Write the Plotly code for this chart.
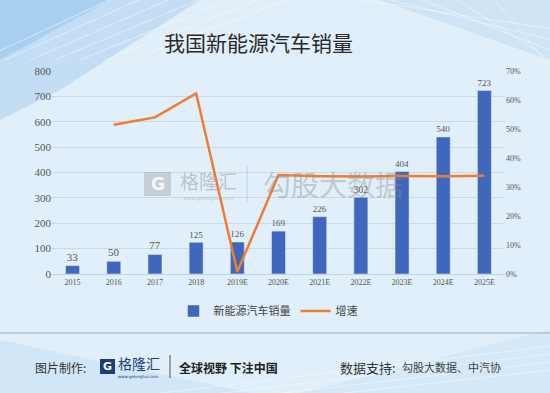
import plotly.graph_objects as go

years = ["2015", "2016", "2017", "2018", "2019E", "2020E", "2021E", "2022E", "2023E", "2024E", "2025E"]
sales = [33, 50, 77, 125, 126, 169, 226, 302, 404, 540, 723]
growth = [None, 51.5, 54.0, 62.3, 0.8, 34.1, 33.7, 33.6, 33.8, 33.7, 33.9]

left_ticks = [0, 100, 200, 300, 400, 500, 600, 700, 800]
right_ticks = [0, 10, 20, 30, 40, 50, 60, 70]
right_labels = [f"{v}%" for v in right_ticks]

CJK = "Noto Sans CJK SC"
SERIF = "Liberation Serif"

# plot area geometry (px) for placing paper-referenced decorations
L, R, T, B = 52, 45, 71, 119
W, H = 550, 393
PW, PH = W - L - R, H - T - B


def px(x):
    return (x - L) / PW


def py(y):
    return (H - B - y) / PH


def note(text, x, y, size, color, family=CJK, xanchor="center"):
    return dict(text=text, x=px(x), y=py(y), xref="paper", yref="paper", showarrow=False,
                xanchor=xanchor, yanchor="middle",
                font=dict(family=family, size=size, color=color))


def poly(points, color):
    d = "M " + " L ".join(f"{px(x):.4f},{py(y):.4f}" for x, y in points) + " Z"
    return dict(type="path", xref="paper", yref="paper", path=d,
                fillcolor=color, line=dict(width=0), layer="below")


fig = go.Figure()
fig.add_trace(go.Bar(
    x=years, y=sales, name="新能源汽车销量",
    marker=dict(color="#3f68bd"), width=0.34,
    text=[str(v) for v in sales], textposition="outside",
    textfont=dict(color="#555555", size=11, family=SERIF),
    cliponaxis=False,
))
fig.add_trace(go.Scatter(
    x=years, y=growth, name="增速", mode="lines",
    line=dict(color="#ed7d31", width=2.5), yaxis="y2",
))

shapes = [
    # soft background tinting (bluer corners, lighter centre)
    poly([(0, 0), (200, 0), (60, 90), (0, 120)], "rgba(140,190,235,0.35)"),
    poly([(0, 0), (110, 0), (0, 60)], "rgba(120,180,235,0.35)"),
    poly([(380, 0), (550, 0), (550, 60)], "rgba(150,195,235,0.25)"),
    poly([(0, 393), (550, 393), (550, 330), (300, 393)], "rgba(150,195,235,0.15)"),
    poly([(0, 340), (0, 393), (250, 393)], "rgba(150,195,235,0.2)"),
]
# decorative light streaks in the background
for i in range(7):
    shapes.append(dict(type="line", xref="paper", yref="paper",
                       x0=px(-20 + i * 25), y0=py(60), x1=px(120 + i * 30), y1=py(-5),
                       line=dict(color="rgba(255,255,255,0.5)", width=1), layer="below"))
for i in range(5):
    shapes.append(dict(type="line", xref="paper", yref="paper",
                       x0=px(330 + i * 40), y0=py(-5), x1=px(560), y1=py(30 + i * 12),
                       line=dict(color="rgba(255,255,255,0.45)", width=1), layer="below"))
for i in range(4):
    shapes.append(dict(type="line", xref="paper", yref="paper",
                       x0=px(120 + i * 60), y0=py(398), x1=px(560), y1=py(345 + i * 8),
                       line=dict(color="rgba(255,255,255,0.4)", width=1), layer="below"))
# footer separator
shapes.append(dict(type="line", xref="paper", yref="paper",
                   x0=px(0), x1=px(550), y0=py(333), y1=py(333),
                   line=dict(color="#9eabb7", width=1)))
# footer logo box
shapes.append(dict(type="rect", xref="paper", yref="paper",
                   x0=px(100), x1=px(115), y0=py(374), y1=py(359),
                   fillcolor="#1d3c78", line=dict(width=0)))
# footer divider
shapes.append(dict(type="line", xref="paper", yref="paper",
                   x0=px(170), x1=px(170), y0=py(355), y1=py(378),
                   line=dict(color="#555555", width=1)))
# watermark box
shapes.append(dict(type="rect", xref="paper", yref="paper",
                   x0=px(144), x1=px(171), y0=py(196), y1=py(172),
                   fillcolor="rgba(150,150,150,0.35)", line=dict(width=0)))
shapes.append(dict(type="line", xref="paper", yref="paper",
                   x0=px(247), x1=px(247), y0=py(166), y1=py(202),
                   line=dict(color="rgba(150,150,150,0.35)", width=1)))

annotations = [
    note("我国新能源汽车销量", 258, 42, 21, "#2a2a2a"),
    # watermark
    note("<b>G</b>", 157.5, 184, 17, "rgba(255,255,255,0.9)", family="DejaVu Sans"),
    note("格隆汇", 208, 180, 19, "rgba(140,140,140,0.45)"),
    note("www.gelonghui.com", 208, 198, 5, "rgba(140,140,140,0.45)", family="DejaVu Sans"),
    note("勾股大数据", 333, 184, 28, "rgba(140,140,140,0.4)"),
    # footer
    note("图片制作:", 33, 367, 12, "#333333", xanchor="left"),
    note("<b>G</b>", 107.5, 366.5, 11, "#ffffff", family="DejaVu Sans"),
    note("格隆汇", 139, 363, 14, "#1d3c78"),
    note("www.gelonghui.com", 138, 376, 4, "#1d3c78", family="DejaVu Sans"),
    note("<b>全球视野 下注中国</b>", 177, 367, 12, "#222222", xanchor="left"),
    note("数据支持:", 338, 367, 13, "#333333", xanchor="left"),
    note("勾股大数据、中汽协", 400, 367, 11, "#444444", xanchor="left"),
]

fig.update_layout(
    width=W, height=H,
    margin=dict(l=L, r=R, t=T, b=B, autoexpand=False),
    paper_bgcolor="#e0eff9",
    plot_bgcolor="rgba(0,0,0,0)",
    showlegend=True,
    legend=dict(orientation="h", x=px(268), xanchor="center", y=py(311), yanchor="middle",
                font=dict(family=CJK, size=11, color="#444444"), bgcolor="rgba(0,0,0,0)",
                itemwidth=30),
    xaxis=dict(tickfont=dict(family=SERIF, size=8, color="#555555"), showgrid=False,
               showline=True, linecolor="#c8d2dc", linewidth=1, ticks=""),
    yaxis=dict(range=[0, 800], tickvals=left_ticks,
               tickfont=dict(family=SERIF, size=11, color="#555555"),
               gridcolor="rgba(200,210,220,0.8)", gridwidth=1, zeroline=False, ticks=""),
    yaxis2=dict(range=[0, 70], tickvals=right_ticks, ticktext=right_labels, overlaying="y",
                side="right", showgrid=False, zeroline=False,
                tickfont=dict(family=SERIF, size=8, color="#555555")),
    shapes=shapes,
    annotations=annotations,
    bargap=0.5,
)

fig.write_html("out.html", config={"displayModeBar": False},
               post_script="document.body.style.margin='0';")
